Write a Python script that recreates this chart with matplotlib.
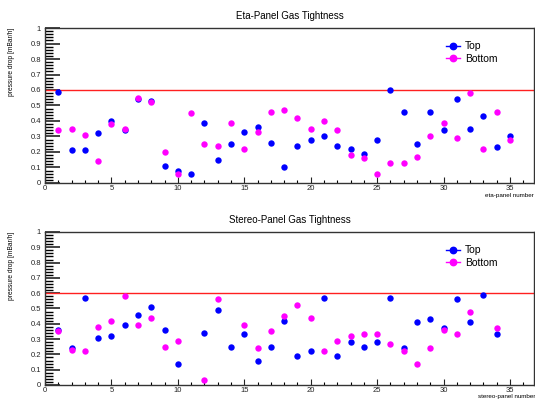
import numpy as np
import matplotlib
matplotlib.use("Agg")
import matplotlib.pyplot as plt
from matplotlib.lines import Line2D
from matplotlib.ticker import MultipleLocator

plt.rcParams['font.family'] = ['Liberation Sans', 'DejaVu Sans']

# panel numbers
panels = list(range(1, 36))

# eta panels, pressure drop [mBar/h]
eta_top = [0.59, 0.21, 0.21, 0.32, 0.40, 0.34, 0.54, 0.53, 0.11, 0.08,
           0.06, 0.39, 0.15, 0.25, 0.33, 0.36, 0.26, 0.10, 0.24, 0.28,
           0.30, 0.24, 0.22, 0.19, 0.28, 0.60, 0.46, 0.25, 0.46, 0.34,
           0.54, 0.35, 0.43, 0.23, 0.30]
eta_bottom = [0.34, 0.35, 0.31, 0.14, 0.38, 0.35, 0.55, 0.52, 0.20, 0.06,
              0.45, 0.25, 0.24, 0.39, 0.22, 0.33, 0.46, 0.47, 0.42, 0.35,
              0.40, 0.34, 0.18, 0.16, 0.06, 0.13, 0.13, 0.17, 0.30, 0.39,
              0.29, 0.58, 0.22, 0.46, 0.28]

# stereo panels (None = not measured)
stereo_top = [0.36, 0.24, 0.57, 0.31, 0.32, 0.39, 0.46, 0.51, 0.36, 0.14,
              None, 0.34, 0.49, 0.25, 0.33, 0.16, 0.25, 0.42, 0.19, 0.22,
              0.57, 0.19, 0.28, 0.25, 0.28, 0.57, 0.24, 0.41, 0.43, 0.37,
              0.56, 0.41, 0.59, 0.33, None]
stereo_bottom = [0.35, 0.23, 0.22, 0.38, 0.42, 0.58, 0.39, 0.44, 0.25, 0.29,
                 None, 0.03, 0.56, None, 0.39, 0.24, 0.35, 0.45, 0.52, 0.44,
                 0.22, 0.29, 0.32, 0.33, 0.33, 0.27, 0.22, 0.14, 0.24, 0.36,
                 0.33, 0.48, None, 0.37, None]

limit = 0.6

fig = plt.figure(figsize=(5.35, 3.99), dpi=100)
ax1 = fig.add_axes([0.0841, 0.5414, 0.9139, 0.3884])
ax2 = fig.add_axes([0.0841, 0.0351, 0.9139, 0.3835])

def draw_panel(ax, top, bottom, title, xlabel):
    top = np.array(top, dtype=float)
    bottom = np.array(bottom, dtype=float)
    ax.plot(panels, top, 'o', color='#0000ff', ms=4.6, mew=0, zorder=3)
    ax.plot(panels, bottom, 'o', color='#ff00ff', ms=4.6, mew=0, zorder=4)
    ax.axhline(limit, color='#ff2020', lw=1.0, zorder=2)
    ax.set_xlim(0, 36.8)
    ax.set_ylim(0, 1)
    ax.yaxis.set_major_locator(MultipleLocator(0.1))
    ax.yaxis.set_minor_locator(MultipleLocator(0.02))
    ax.xaxis.set_major_locator(MultipleLocator(5))
    ax.xaxis.set_minor_locator(MultipleLocator(1))
    ax.yaxis.set_major_formatter(plt.FuncFormatter(lambda v, p: '%g' % round(v, 2)))
    ax.tick_params(axis='y', which='major', direction='in', length=11, width=1.2,
                   labelsize=5.5, pad=3, colors='#222222')
    ax.tick_params(axis='y', which='minor', direction='in', length=6, width=1.0)
    ax.tick_params(axis='x', which='major', direction='in', length=4, width=0.8,
                   labelsize=5.5, pad=1.5, colors='#222222')
    ax.tick_params(axis='x', which='minor', direction='in', length=2, width=0.8)
    for s in ax.spines.values():
        s.set_linewidth(1.0)
        s.set_color('#333333')
    ax.set_title(title, fontsize=7, pad=6.5)
    ax.set_ylabel('pressure drop [mBar/h]', fontsize=4.8, loc='top', labelpad=11)
    ax.set_xlabel(xlabel, fontsize=4.5, loc='right', labelpad=0.5)
    handles = [Line2D([], [], color='#0000ff', marker='o', ms=4.6, lw=1),
               Line2D([], [], color='#ff00ff', marker='o', ms=4.6, lw=1)]
    ax.legend(handles, ['Top', 'Bottom'], loc='upper left',
              bbox_to_anchor=(0.8, 0.975), frameon=False, fontsize=7.5,
              handlelength=1.4, handletextpad=0.5, labelspacing=0.25)

draw_panel(ax1, eta_top, eta_bottom, 'Eta-Panel Gas Tightness', 'eta-panel number')
draw_panel(ax2, stereo_top, stereo_bottom, 'Stereo-Panel Gas Tightness', 'stereo-panel number')
# keep the bottom axis title inside the canvas, below the "35" label
ax2.xaxis.label.set_va('bottom')
ax2.xaxis.set_label_coords(1.0, 0.001, transform=fig.transFigure)

fig.savefig('out.png', dpi=100)
